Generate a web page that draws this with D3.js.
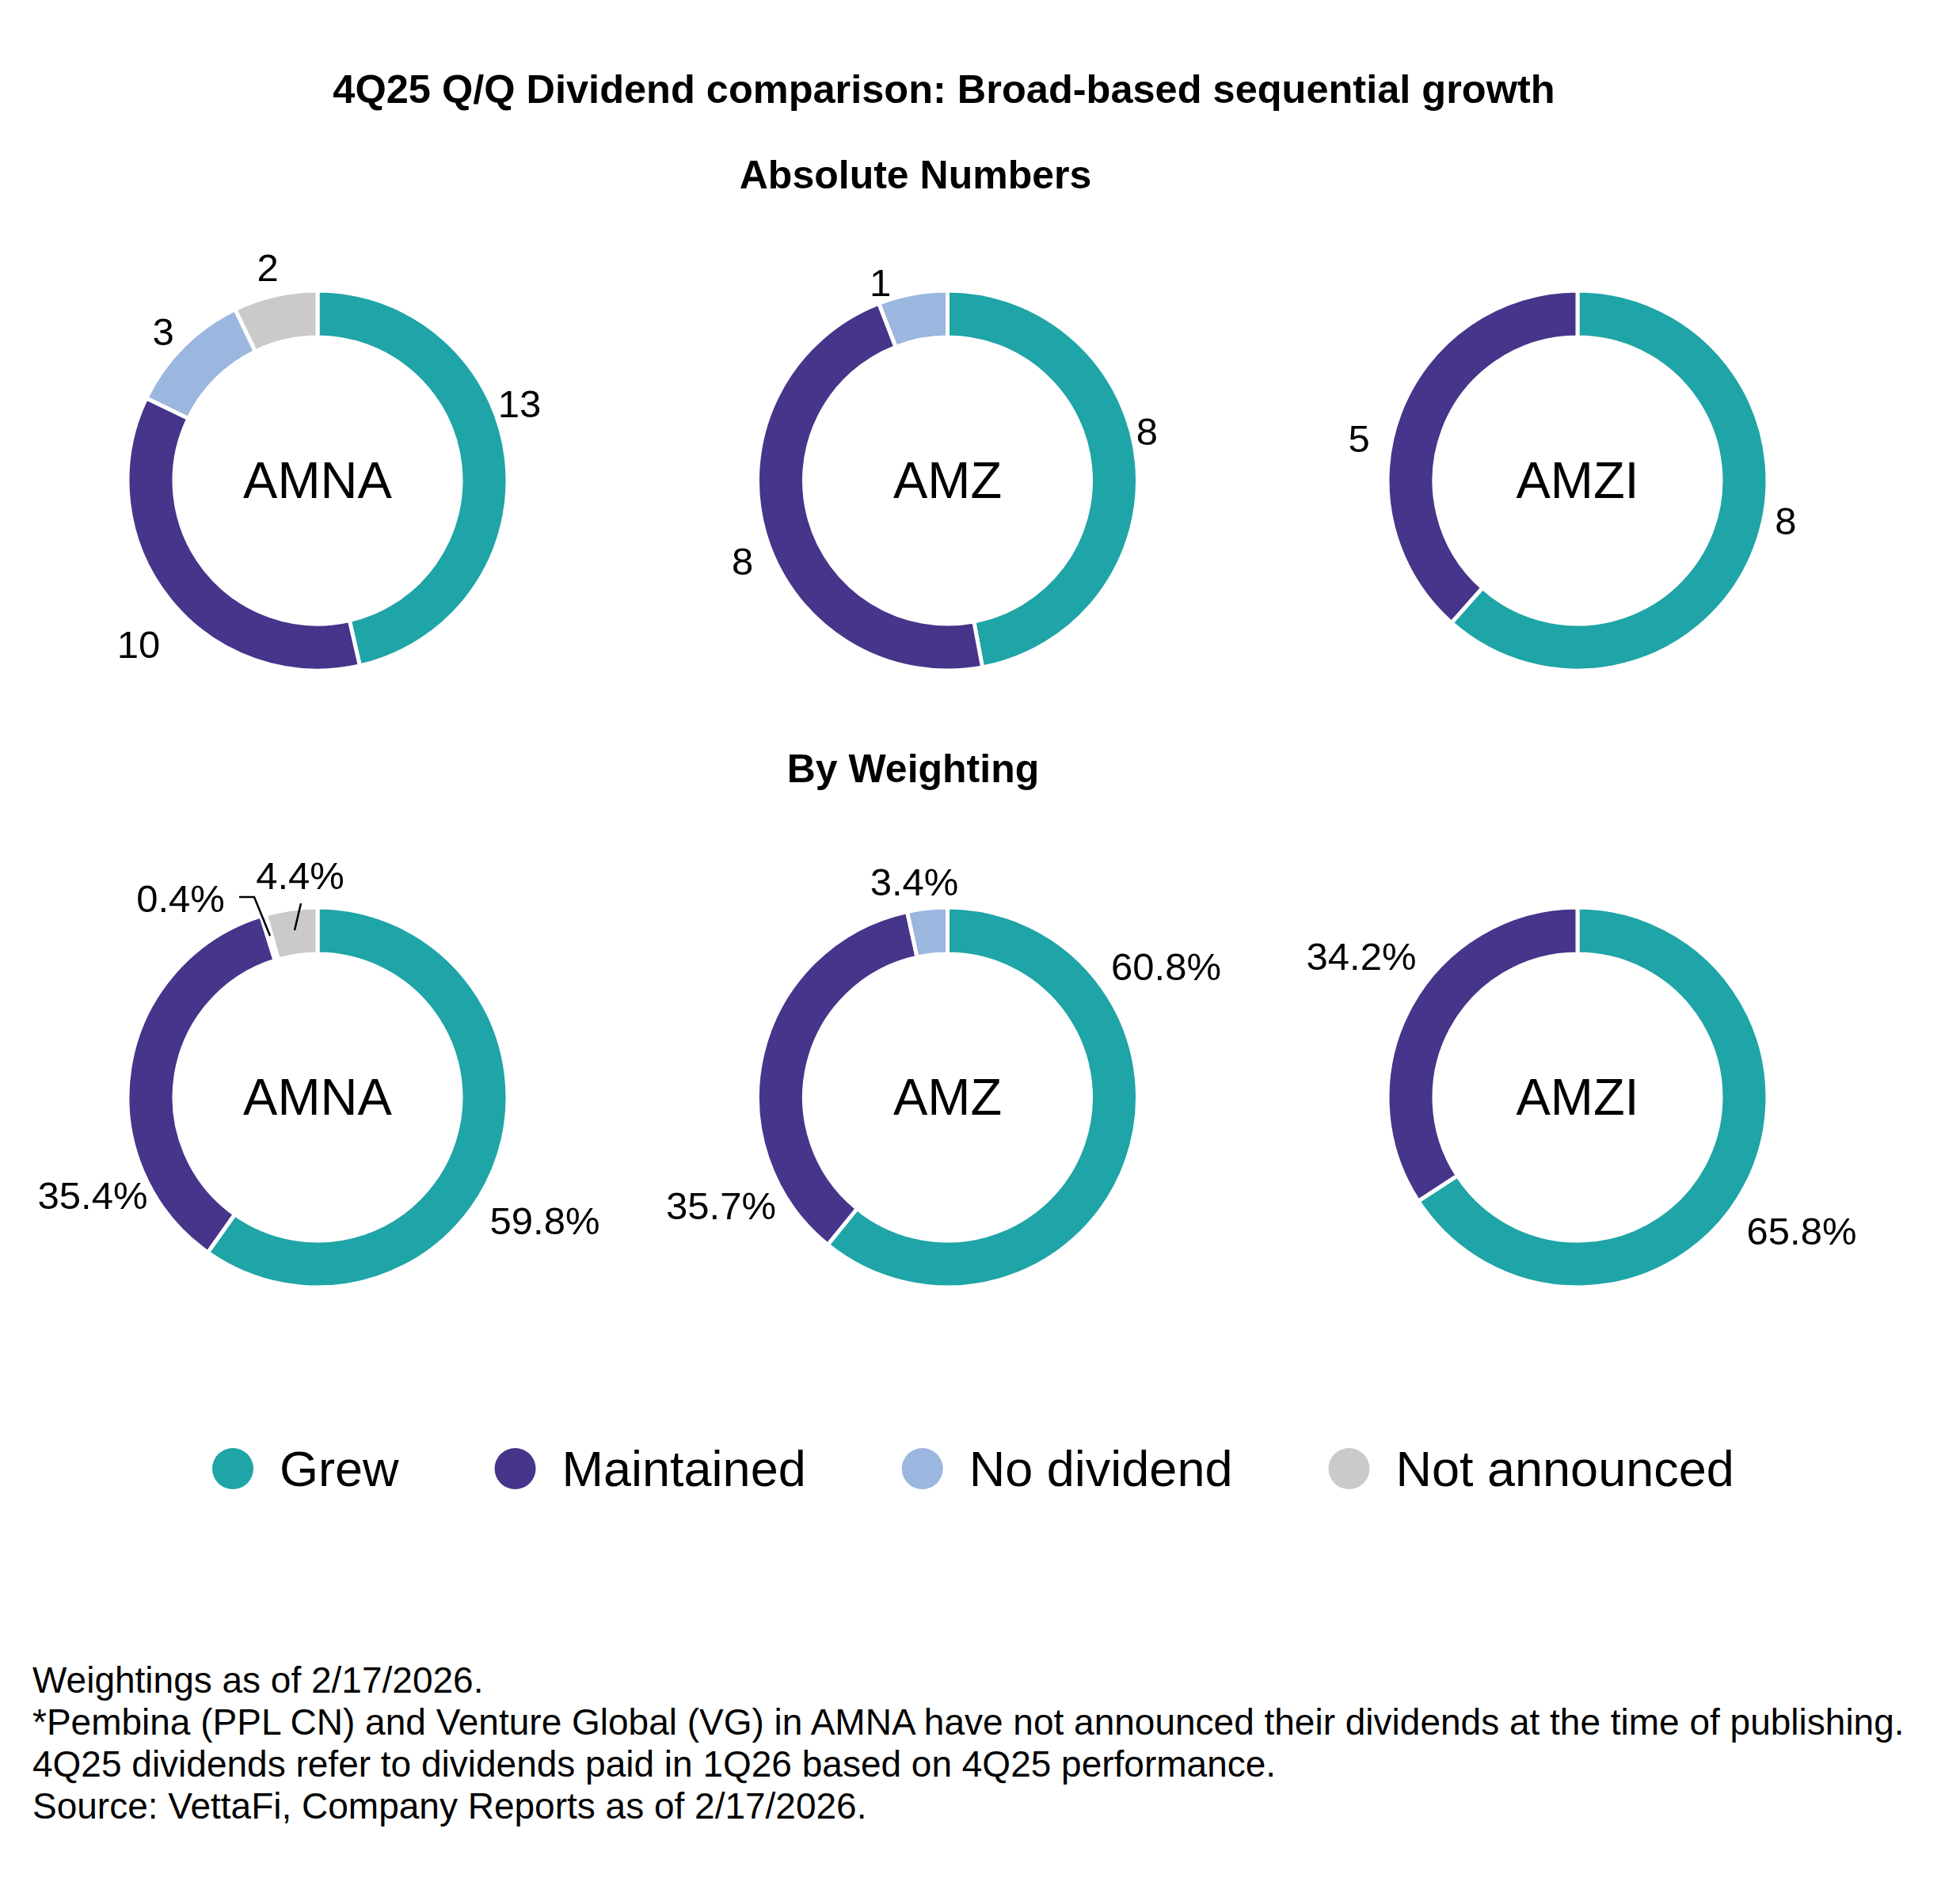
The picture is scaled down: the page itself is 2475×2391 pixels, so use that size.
<!DOCTYPE html>
<html>
<head>
<meta charset="utf-8">
<script src="https://cdn.jsdelivr.net/npm/d3@7"></script>
<style>
  html, body { margin: 0; padding: 0; background: #ffffff; }
  svg text { font-family: "Liberation Sans", Arial, Helvetica, sans-serif; fill: #000; }
</style>
</head>
<body>
<svg id="chart" width="2475" height="2391"></svg>
<script>
// ---------------- DATA ----------------
const categories = ["Grew", "Maintained", "No dividend", "Not announced"];
const funds = ["AMNA", "AMZ", "AMZI"];

// Absolute numbers (count of holdings)
const absAMNA = [13, 10, 3, 2];
const absAMZ  = [8, 8, 1, 0];
const absAMZI = [8, 5, 0, 0];

// By weighting (%)
const wtAMNA = [59.8, 35.4, 0.4, 4.4];
const wtAMZ  = [60.8, 35.7, 3.4, 0];
const wtAMZI = [65.8, 34.2, 0, 0];

const titleText = "4Q25 Q/Q Dividend comparison: Broad-based sequential growth";
const sectionTitles = ["Absolute Numbers", "By Weighting"];
const footnotes = [
  "Weightings as of 2/17/2026.",
  "*Pembina (PPL CN) and Venture Global (VG) in AMNA have not announced their dividends at the time of publishing.",
  "4Q25 dividends refer to dividends paid in 1Q26 based on 4Q25 performance.",
  "Source: VettaFi, Company Reports as of 2/17/2026."
];

// ---------------- STYLE / LAYOUT ----------------
const colors = ["#1FA4A7", "#46358A", "#9BB6DF", "#CACACA"];
const color = d3.scaleOrdinal().domain(categories).range(colors);

const svg = d3.select("#chart");

const outerR = 240, innerR = 181;
const colX = d3.scalePoint().domain(funds).range([401, 1992]);
const rowY = [607, 1386];

// label placement relative to donut centre (label centre x, baseline y), per slice index
const labelOffsets = {
  "abs-AMNA": [[255, -80], [-226, 224], [-195, -171], [-63, -252]],
  "abs-AMZ":  [[252, -45], [-259, 119], [-85, -233], null],
  "abs-AMZI": [[263, 68], [-276, -36], null, null],
  "wt-AMNA":  [[287, 173], [-284, 141], [-173, -234], [-22, -263]],
  "wt-AMZ":   [[276, -148], [-286, 154], [-42, -255], null],
  "wt-AMZI":  [[283, 186], [-273, -161], null, null]
};
// leader lines (relative to centre), only for AMNA weighting small slices
const leaders = {
  "wt-AMNA": [null, null, [[-99, -253], [-80, -253], [-60, -204]], [[-21, -245], [-29, -211]]]
};

// ---------------- TITLES ----------------
svg.append("text")
  .attr("x", 1192).attr("y", 130)
  .attr("text-anchor", "middle")
  .style("font-size", "50.5px").style("font-weight", "bold")
  .text(titleText);

svg.append("text")
  .attr("x", 1156).attr("y", 238)
  .attr("text-anchor", "middle")
  .style("font-size", "50px").style("font-weight", "bold")
  .text(sectionTitles[0]);

svg.append("text")
  .attr("x", 1153).attr("y", 988)
  .attr("text-anchor", "middle")
  .style("font-size", "50px").style("font-weight", "bold")
  .text(sectionTitles[1]);

// ---------------- DONUTS ----------------
const pie = d3.pie().sort(null).value(d => d.value);
const arc = d3.arc().innerRadius(innerR).outerRadius(outerR);

const charts = [
  { key: "abs-AMNA", fund: "AMNA", row: 0, values: absAMNA, fmt: d => String(d) },
  { key: "abs-AMZ",  fund: "AMZ",  row: 0, values: absAMZ,  fmt: d => String(d) },
  { key: "abs-AMZI", fund: "AMZI", row: 0, values: absAMZI, fmt: d => String(d) },
  { key: "wt-AMNA",  fund: "AMNA", row: 1, values: wtAMNA,  fmt: d => d.toFixed(1) + "%" },
  { key: "wt-AMZ",   fund: "AMZ",  row: 1, values: wtAMZ,   fmt: d => d.toFixed(1) + "%" },
  { key: "wt-AMZI",  fund: "AMZI", row: 1, values: wtAMZI,  fmt: d => d.toFixed(1) + "%" }
];

charts.forEach(c => {
  const cx = colX(c.fund), cy = rowY[c.row];
  const g = svg.append("g").attr("transform", `translate(${cx},${cy})`);
  const data = categories.map((cat, i) => ({ cat, value: c.values[i], i }));
  const arcs = pie(data);

  g.selectAll("path.slice")
    .data(arcs.filter(a => a.data.value > 0))
    .join("path")
    .attr("class", "slice")
    .attr("d", arc)
    .attr("fill", d => color(d.data.cat))
    .attr("stroke", "#ffffff")
    .attr("stroke-width", 5)
    .attr("stroke-linejoin", "miter");

  // centre label
  g.append("text")
    .attr("x", 0).attr("y", 22)
    .attr("text-anchor", "middle")
    .style("font-size", "65px")
    .text(c.fund);

  // value labels
  const offs = labelOffsets[c.key];
  arcs.forEach(a => {
    if (a.data.value <= 0) return;
    const o = offs[a.data.i];
    if (!o) return;
    g.append("text")
      .attr("x", o[0]).attr("y", o[1])
      .attr("text-anchor", "middle")
      .style("font-size", "49px")
      .text(c.fmt(a.data.value));
  });

  // leader lines
  const ld = leaders[c.key];
  if (ld) {
    ld.forEach(pts => {
      if (!pts) return;
      g.append("path")
        .attr("d", d3.line()(pts))
        .attr("fill", "none")
        .attr("stroke", "#000")
        .attr("stroke-width", 2.5);
    });
  }
});

// ---------------- LEGEND ----------------
const legendY = 1855;
const legendFont = 63;
const legend = svg.append("g");
let lx = 294;
categories.forEach((cat, i) => {
  legend.append("circle")
    .attr("cx", lx).attr("cy", legendY).attr("r", 26)
    .attr("fill", color(cat));
  const t = legend.append("text")
    .attr("x", lx + 59).attr("y", legendY + 22)
    .style("font-size", legendFont + "px")
    .text(cat);
  const w = t.node().getComputedTextLength();
  lx = lx + 59 + w + 147;
});

// ---------------- FOOTNOTES ----------------
svg.append("g").selectAll("text")
  .data(footnotes)
  .join("text")
  .attr("x", 41)
  .attr("y", (d, i) => 2138 + i * 53)
  .style("font-size", "46px")
  .text(d => d);
</script>
</body>
</html>
